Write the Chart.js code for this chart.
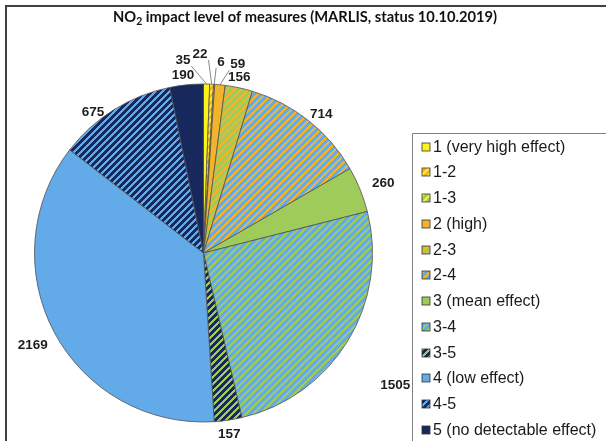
<!DOCTYPE html>
<html>
<head>
<meta charset="utf-8">
<script src="https://cdn.jsdelivr.net/npm/chart.js@4.4.1/dist/chart.umd.min.js"></script>
<style>
  html, body { margin: 0; padding: 0; background: #ffffff; }
  canvas { display: block; }
</style>
</head>
<body>
<canvas id="chart" width="606" height="441"></canvas>
<script>
// Impact categories and number of measures in each
const categories = [
  '1 (very high effect)', '1-2', '1-3', '2 (high)', '2-3', '2-4',
  '3 (mean effect)', '3-4', '3-5', '4 (low effect)', '4-5', '5 (no detectable effect)'
];
const measureCounts = [35, 22, 6, 59, 156, 714, 260, 1505, 157, 2169, 675, 190];

// Palette: plain levels and the two-colour hatches for the ranges
const YELLOW = '#FCF31E';
const ORANGE = '#F1B42C';
const GREEN = '#9FCB5A';
const BLUE = '#63AAE9';
const NAVY = '#16285C';
const fillSpec = [
  [YELLOW, null], [ORANGE, YELLOW], [GREEN, YELLOW], [ORANGE, null],
  [GREEN, ORANGE], [BLUE, ORANGE], [GREEN, null], [BLUE, GREEN],
  [NAVY, GREEN], [BLUE, null], [NAVY, BLUE], [NAVY, null]
];

// Where each value label sits: [angle in degrees clockwise from 12 o'clock, gap beyond the rim]
const labelSpots = [
  [353.9, 25], [359.0, 30], [5.2, 23], [10.3, 23], [11.5, 10], [40.3, 13],
  [68.7, 24], [124.6, 64], [171.9, 14], [241.6, 25], [321.9, 10], [353.4, 10]
];
const leaderLines = [true, true, true, true, false, false, false, false, false, false, false, false];

function hatch(base, stripe) {
  if (!stripe) return base;
  const P = 7, W = 3;
  const tile = document.createElement('canvas');
  tile.width = P; tile.height = P;
  const g = tile.getContext('2d');
  g.fillStyle = base;
  g.fillRect(0, 0, P, P);
  g.fillStyle = stripe;
  for (let px = 0; px < P; px++) {
    for (let py = 0; py < P; py++) {
      if ((px + py) % P < W) g.fillRect(px, py, 1, 1);
    }
  }
  return g.createPattern(tile, 'repeat');
}

const fills = fillSpec.map(([b, s]) => hatch(b, s));

const framePlugin = {
  id: 'frame',
  beforeDraw(chart) {
    const ctx = chart.ctx;
    ctx.save();
    ctx.fillStyle = '#404040';
    ctx.fillRect(5, 5, 601, 2);
    ctx.fillRect(5, 5, 2, 436);
    ctx.restore();
  }
};

const titlePlugin = {
  id: 'titleText',
  afterDraw(chart) {
    const ctx = chart.ctx;
    ctx.save();
    const big = 'bold 14.7px Lato, "Open Sans", sans-serif';
    const small = 'bold 10.5px Lato, "Open Sans", sans-serif';
    const head = 'NO', sub = '2', tail = ' impact level of measures (MARLIS, status 10.10.2019)';
    ctx.font = big;
    const w1 = ctx.measureText(head).width;
    const w3 = ctx.measureText(tail).width;
    ctx.font = small;
    const w2 = ctx.measureText(sub).width;
    let x = 305 - (w1 + w2 + w3) / 2;
    const base = 21.5;
    ctx.fillStyle = '#111111';
    ctx.textBaseline = 'alphabetic';
    ctx.textAlign = 'left';
    ctx.font = big; ctx.fillText(head, x, base); x += w1;
    ctx.font = small; ctx.fillText(sub, x, base + 3); x += w2;
    ctx.font = big; ctx.fillText(tail, x, base);
    ctx.restore();
  }
};

const legendPlugin = {
  id: 'legendBox',
  afterDraw(chart) {
    const ctx = chart.ctx;
    ctx.save();
    ctx.strokeStyle = '#808080';
    ctx.lineWidth = 1;
    ctx.beginPath();
    ctx.moveTo(412.5, 441);
    ctx.lineTo(412.5, 133.5);
    ctx.lineTo(606, 133.5);
    ctx.stroke();
    ctx.font = '16px "Liberation Sans", Arial, sans-serif';
    ctx.textBaseline = 'middle';
    ctx.textAlign = 'left';
    categories.forEach((name, i) => {
      const y = 146.7 + i * 25.75;
      ctx.fillStyle = fills[i];
      ctx.fillRect(422, Math.round(y) - 4, 8, 8);
      ctx.strokeStyle = '#333333';
      ctx.lineWidth = 0.8;
      ctx.strokeRect(422, Math.round(y) - 4, 8, 8);
      ctx.fillStyle = '#1a1a1a';
      ctx.fillText(name, 433, y + 0.5);
    });
    ctx.restore();
  }
};

const labelPlugin = {
  id: 'sliceLabels',
  afterDatasetsDraw(chart) {
    const ctx = chart.ctx;
    const arcs = chart.getDatasetMeta(0).data;
    ctx.save();
    ctx.font = 'bold 13.5px "Liberation Sans", Arial, sans-serif';
    ctx.textAlign = 'center';
    ctx.textBaseline = 'middle';
    arcs.forEach((arc, i) => {
      const p = arc.getProps(['x', 'y', 'startAngle', 'endAngle', 'outerRadius'], true);
      const [deg, gap] = labelSpots[i];
      const a = deg * Math.PI / 180;
      const lx = p.x + (p.outerRadius + gap) * Math.sin(a);
      const ly = p.y - (p.outerRadius + gap) * Math.cos(a);
      const text = String(measureCounts[i]);
      if (leaderLines[i]) {
        const mid = (p.startAngle + p.endAngle) / 2;
        const ex = p.x + p.outerRadius * Math.cos(mid);
        const ey = p.y + p.outerRadius * Math.sin(mid);
        const w = ctx.measureText(text).width;
        const bx = Math.min(Math.max(ex, lx - w / 2 - 1), lx + w / 2 + 1);
        const by = Math.min(Math.max(ey, ly - 6), ly + 6);
        ctx.strokeStyle = '#6a6a6a';
        ctx.lineWidth = 0.8;
        ctx.beginPath();
        ctx.moveTo(bx, by);
        ctx.lineTo(ex, ey);
        ctx.stroke();
      }
      ctx.fillStyle = '#1e1e1e';
      ctx.fillText(text, lx, ly);
    });
    ctx.restore();
  }
};

new Chart(document.getElementById('chart'), {
  type: 'pie',
  data: {
    labels: categories,
    datasets: [{
      data: measureCounts,
      backgroundColor: fills,
      borderColor: '#505050',
      borderWidth: 0.8,
      radius: 169
    }]
  },
  options: {
    responsive: false,
    animation: false,
    layout: { padding: { left: 0, right: 199, top: 65, bottom: 0 } },
    plugins: {
      legend: { display: false },
      title: { display: false },
      tooltip: { enabled: false }
    }
  },
  plugins: [framePlugin, labelPlugin, titlePlugin, legendPlugin]
});
</script>
</body>
</html>
